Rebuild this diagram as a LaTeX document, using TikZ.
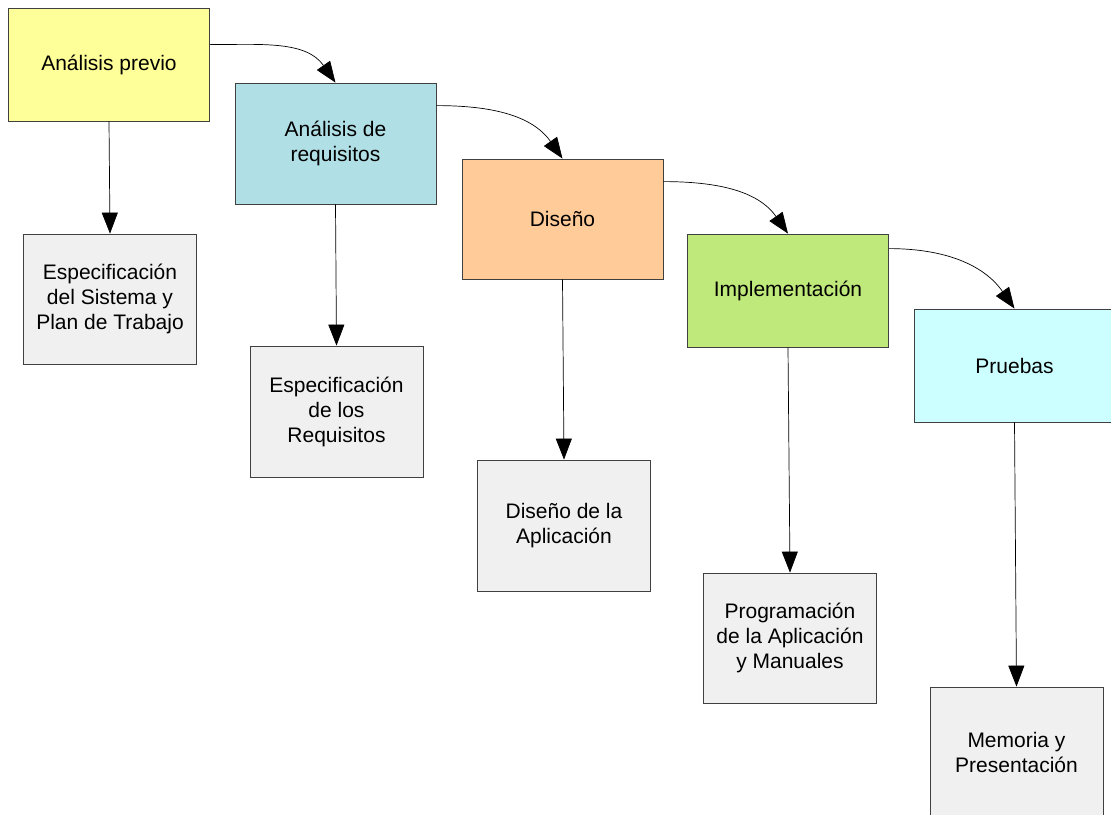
\documentclass[tikz,border=0pt]{standalone}
\usepackage{fontspec}
\setmainfont{Liberation Sans}
\usetikzlibrary{arrows.meta}
\definecolor{cyel}{HTML}{FFFF99}
\definecolor{cblu}{HTML}{B0DFE5}
\definecolor{cora}{HTML}{FFCC99}
\definecolor{cgre}{HTML}{C0E97B}
\definecolor{ccya}{HTML}{CCFFFF}
\definecolor{cgry}{HTML}{F0F0F0}
\definecolor{cbord}{HTML}{404040}
\tikzset{
  phase/.style={draw=cbord, line width=0.8pt, minimum width=201pt, minimum height=113pt, align=center, inner sep=0pt, font=\fontsize{21}{25}\selectfont},
  outbox/.style={draw=cbord, line width=0.8pt, fill=cgry, minimum width=173pt, minimum height=130pt, align=center, inner sep=0pt, font=\fontsize{21}{25}\selectfont},
  conn/.style={draw=black, line width=0.7pt, -{Triangle[length=21pt,width=16pt]}},
}
\begin{document}
\begin{tikzpicture}[x=1pt,y=-1pt]
\useasboundingbox (0,0) rectangle (1111,814);
\clip (0,0) rectangle (1111,814);
% phase boxes
\node[phase, fill=cyel] (p1) at (109,64.5) {Análisis previo};
\node[phase, fill=cblu, minimum height=121pt] (p2) at (335.5,143.5) {Análisis de\\requisitos};
\node[phase, fill=cora, minimum height=120pt] (p3) at (562.5,219) {Diseño};
\node[phase, fill=cgre] (p4) at (788,290.5) {Implementación};
\node[phase, fill=ccya] (p5) at (1014.5,365.5) {Pruebas};
% output boxes
\node[outbox] (o1) at (110,299) {Especificación\\del Sistema y\\Plan de Trabajo};
\node[outbox, minimum height=131pt] (o2) at (336.5,411.5) {Especificación\\de los\\Requisitos};
\node[outbox, minimum height=131pt] (o3) at (564,525.5) {Diseño de la\\Aplicación};
\node[outbox] (o4) at (790,638) {Programación\\de la Aplicación\\y Manuales};
\node[outbox] (o5) at (1016.5,752) {Memoria y\\Presentación};
% vertical connectors
\draw[conn] (p1.south) -- (o1.north);
\draw[conn] (p2.south) -- (o2.north);
\draw[conn] (p3.south) -- (o3.north);
\draw[conn] (p4.south) -- (o4.north);
\draw[conn] (p5.south) -- (o5.north);
% curved connectors
\draw[conn] ([yshift=-37pt]p1.north east) to[out=0,in=125] (p2.north);
\draw[conn] ([yshift=-23pt]p2.north east) to[out=0,in=125] (p3.north);
\draw[conn] ([yshift=-23pt]p3.north east) to[out=0,in=125] (p4.north);
\draw[conn] ([yshift=-15pt]p4.north east) to[out=0,in=125] (p5.north);
\end{tikzpicture}
\end{document}
